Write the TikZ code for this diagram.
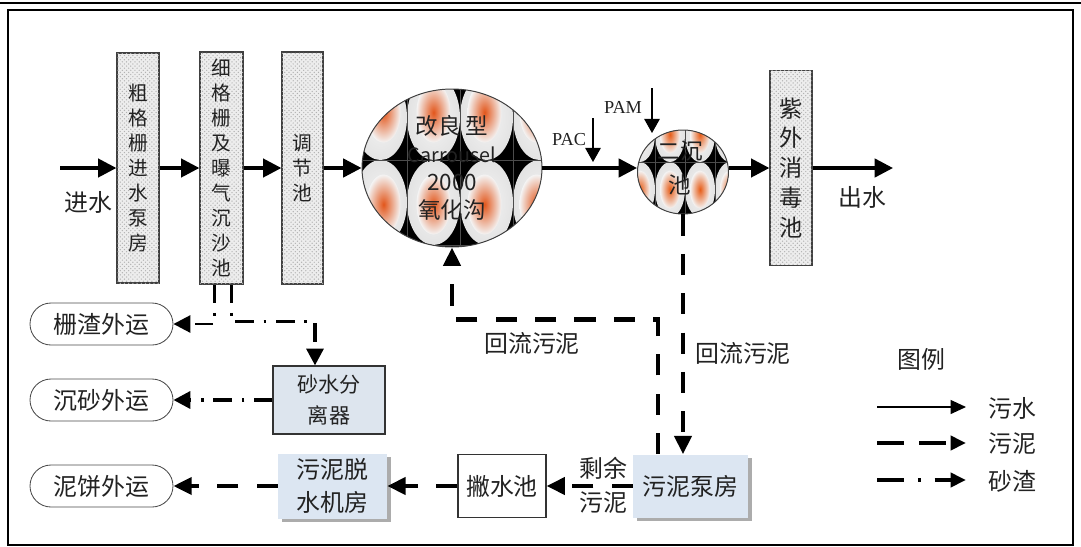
\documentclass[tikz,border=0pt]{standalone}
\usepackage{fontspec}
\setmainfont{Noto Sans CJK SC}
\newfontfamily\serifl{Liberation Serif}
\usetikzlibrary{arrows.meta,shapes.geometric,shapes.misc,patterns,shadows,calc}

\definecolor{paleblue}{HTML}{DCE6F2}
\definecolor{sepblue}{HTML}{DDE5EE}
\definecolor{blobcore}{HTML}{E2561B}
\definecolor{ovalgray}{HTML}{E9E9E9}
\definecolor{ovallight}{HTML}{F4F4F4}
\definecolor{inkgray}{HTML}{222222}

% lengths written in drawing units (1 unit = 0.025cm)
\newcommand{\pxl}[1]{#1*0.025cm}

\tikzset{
  lbl/.style={font=\fontsize{17}{20}\selectfont, text=inkgray, inner sep=0pt},
  vbox/.style={draw=black!75, line width=0.9pt, fill=gray!14,
    postaction={pattern=crosshatch dots, pattern color=gray!60},
    inner sep=0pt, align=center, text=inkgray},
  bluebox/.style={fill=paleblue,
    drop shadow={shadow xshift=2.5pt, shadow yshift=-2.5pt, fill=gray!65, opacity=1},
    inner sep=0pt, align=center, font=\fontsize{17}{24}\selectfont, text=inkgray},
  whitebox/.style={draw=black!80, line width=0.8pt, fill=white, inner sep=0pt,
    align=center, font=\fontsize{17}{24}\selectfont, text=inkgray},
  sepbox/.style={draw=black!80, line width=0.8pt, fill=sepblue, inner sep=0pt,
    align=center, font=\fontsize{15}{22}\selectfont, text=inkgray},
  pill/.style={rounded rectangle, draw=black!70, line width=0.6pt, fill=white,
    minimum width=\pxl{143}, minimum height=\pxl{42}, inner sep=0pt,
    font=\fontsize{17}{20}\selectfont, text=inkgray},
  flow/.style={line width=2.4pt, -{Triangle[length=13pt,width=13pt]}},
  sludge/.style={line width=3pt, dash pattern=on 15pt off 13pt,
    -{Triangle[length=13pt,width=12pt]}},
  grit/.style={line width=2.6pt, dash pattern=on 13pt off 7pt on 2pt off 7pt,
    -{Triangle[length=12pt,width=12pt]}},
  dose/.style={line width=1pt, -{Triangle[length=10pt,width=11pt]}},
  legflow/.style={line width=0.8pt, -{Triangle[length=11pt,width=10pt]}},
  legsludge/.style={line width=3pt, dash pattern=on 19pt off 11pt,
    -{Triangle[length=11pt,width=10pt]}},
  leggrit/.style={line width=3pt, dash pattern=on 19pt off 10pt on 2pt off 10pt,
    -{Triangle[length=11pt,width=10pt]}},
}

\begin{document}
\begin{tikzpicture}[x=0.025cm, y=-0.025cm]
\useasboundingbox (0,0) rectangle (1081,547);

% frame
\draw[line width=1.8pt] (0,3) -- (1081,3);
\draw[line width=1.4pt] (8,10) rectangle (1073,545);

% ---------- oxidation ditch: tiled oval pattern ----------
\begin{scope}
  \clip (452,168) ellipse [x radius=\pxl{90}, y radius=\pxl{79}];
  \fill[black] (340,60) rectangle (570,280);
  \foreach \cx/\ox in {380.5/3,433.5/0,486.5/-2,539.5/-3} {
    \foreach \cy/\oy in {32.5/0,117.5/-5,202.5/2,287.5/0} {
      \shade[inner color=ovallight, outer color=gray!22]
        (\cx,\cy) ellipse [x radius=\pxl{26.5}, y radius=\pxl{42.5}];
      \shade[inner color=blobcore, outer color=ovallight]
        (\cx+\ox,\cy+\oy) ellipse [x radius=\pxl{17}, y radius=\pxl{30}];
    }
  }
  \draw[gray!60!black, line width=0.4pt]
    (407,60) -- (407,280) (460,60) -- (460,280) (513,60) -- (513,280)
    (340,160) -- (570,160) (340,245) -- (570,245);
\end{scope}
\node[ellipse, draw=gray!50!black, line width=0.7pt, minimum width=\pxl{180},
  minimum height=\pxl{158}, inner sep=0pt] (ox) at (452,168) {};
\node[align=center, font=\fontsize{16}{20}\selectfont, text=inkgray, inner sep=0pt]
  (oxtext) at (452,168) {改良 型\\{\fontsize{14}{20}\selectfont Carrousel}\\2000\\氧化沟};

% ---------- secondary clarifier: tiled oval pattern ----------
\begin{scope}
  \clip (683,172) ellipse [x radius=\pxl{45.5}, y radius=\pxl{42}];
  \fill[black] (620,100) rectangle (750,230);
  \foreach \cx in {640,670,700,730} {
    \foreach \cy in {79.5,134.5,189.5,244.5} {
      \shade[inner color=ovallight, outer color=gray!22]
        (\cx,\cy) ellipse [x radius=\pxl{15}, y radius=\pxl{27.5}];
      \shade[inner color=blobcore!85!orange, outer color=ovallight]
        (\cx,\cy) ellipse [x radius=\pxl{10}, y radius=\pxl{19}];
    }
  }
  \draw[gray!60!black, line width=0.4pt]
    (655,100) -- (655,230) (685,100) -- (685,230) (715,100) -- (715,230)
    (620,162) -- (750,162) (620,217) -- (750,217);
\end{scope}
\node[ellipse, draw=gray!50!black, line width=0.7pt, minimum width=\pxl{91},
  minimum height=\pxl{84}, inner sep=0pt] (sc) at (683,172) {};
\node[align=center, font=\fontsize{16}{23.5}\selectfont, text=inkgray, inner sep=0pt]
  (sctext) at (680,168) {二沉\\池};

% ---------- main treatment line ----------
\coordinate (inlet) at (60,168);
\node[lbl] (inlbl) at (88,202) {进水};
\node[vbox, minimum width=\pxl{42}, minimum height=\pxl{230},
  font=\fontsize{14}{17.8}\selectfont] (b1) at (138,168)
  {粗\\格\\栅\\进\\水\\泵\\房};
\node[vbox, minimum width=\pxl{43}, minimum height=\pxl{232},
  font=\fontsize{14}{17.8}\selectfont] (b2) at (221.5,168)
  {细\\格\\栅\\及\\曝\\气\\沉\\沙\\池};
\node[vbox, minimum width=\pxl{41}, minimum height=\pxl{232},
  font=\fontsize{14}{17.8}\selectfont] (b3) at (302.5,168)
  {调\\节\\池};
\node[vbox, minimum width=\pxl{42}, minimum height=\pxl{195},
  font=\fontsize{16.5}{21.3}\selectfont] (uv) at (791,168)
  {紫\\外\\消\\毒\\池};
\coordinate (outlet) at (893,168);
\node[lbl] (outlbl) at (862,197) {出水};

\draw[flow] (inlet) -- (b1.west);
\draw[flow] (b1.east) -- (b2.west);
\draw[flow] (b2.east) -- (b3.west);
\draw[flow] (b3.east) -- (ox.west);
\draw[flow] (ox.east) -- (sc.west |- ox.east);
\draw[flow] (sc.east |- ox.east) -- (uv.west);
\draw[flow] (uv.east) -- (outlet);

% chemical dosing
\node[font=\serifl\fontsize{13}{15}\selectfont, text=inkgray, inner sep=0pt] (pac) at (569,140) {PAC};
\node[font=\serifl\fontsize{13}{15}\selectfont, text=inkgray, inner sep=0pt] (pam) at (623,107) {PAM};
\coordinate (pacin) at (593,118);
\coordinate (pamin) at (652,88);
\draw[dose] (pacin) -- ++(0,44);
\draw[dose] (pamin) -- ++(0,45);

% ---------- sludge line ----------
\node[bluebox, minimum width=\pxl{115}, minimum height=\pxl{63}] (pump) at (690.5,486) {污泥泵房};
\node[whitebox, minimum width=\pxl{88}, minimum height=\pxl{63}] (skim) at (502,486) {撇水池};
\node[bluebox, minimum width=\pxl{109}, minimum height=\pxl{65}] (dew) at (332.5,486) {污泥脱\\水机房};
\node[pill] (cake) at (101.5,486) {泥饼外运};

\draw[sludge] (sc.south) -- (sc.south |- pump.north);
\node[lbl] (ret1) at (743,353) {回流污泥};
\draw[sludge] ($(pump.north west)+(25,0)$) |- ($(ox.south)+(0,72)$) -- (ox.south);
\node[lbl] (ret2) at (532,343) {回流污泥};

\draw[sludge] (pump.west) -- (skim.east);
\node[lbl] (exc1) at (603,468) {剩余};
\node[lbl] (exc2) at (603,503) {污泥};
\draw[sludge] (skim.west) -- (dew.east);
\draw[sludge] (dew.west) -- (cake.east);

% ---------- screenings and grit ----------
\node[pill] (screen) at (101.5,324) {栅渣外运};
\node[pill] (grit) at (101.5,400) {沉砂外运};
\node[sepbox, minimum width=\pxl{112}, minimum height=\pxl{68}] (sep) at (329,400) {砂水分\\离器};

\draw[grit, line width=2pt] ($(b2.south)+(-7,0)$) |- (screen.east);
\draw[grit] ($(b2.south)+(10,0)$) |- ($(sep.north)+(-14,-44)$) -- ($(sep.north)+(-14,0)$);
\draw[grit] (sep.west) -- (grit.east);

% ---------- legend ----------
\node[lbl] (legtitle) at (921.5,359) {图例};
\node[lbl] (leg1) at (1012.5,408) {污水};
\node[lbl] (leg2) at (1012.5,444) {污泥};
\node[lbl] (leg3) at (1012.5,481) {砂渣};
\coordinate (leg1s) at (877,407);
\coordinate (leg2s) at (877,443);
\coordinate (leg3s) at (877,480);
\draw[legflow] (leg1s) -- ++(89,0);
\draw[legsludge] (leg2s) -- ++(89,0);
\draw[leggrit] (leg3s) -- ++(89,0);
\end{tikzpicture}
\end{document}
